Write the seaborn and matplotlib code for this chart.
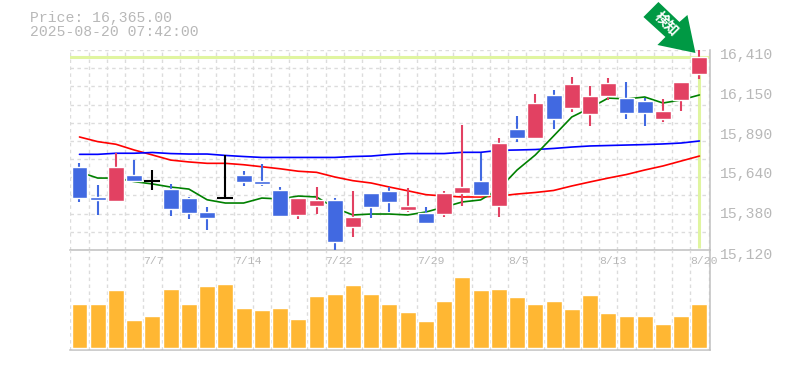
import numpy as np
import pandas as pd
import matplotlib
matplotlib.use('Agg')
import matplotlib.pyplot as plt
from matplotlib.patches import Polygon
from matplotlib.transforms import IdentityTransform, blended_transform_factory
import seaborn as sns

# Values
opens = [15655, 15462, 15436, 15604, 15567, 15513, 15455, 15365, 15453, 15604, 15565, 15507,
         15346, 15404, 15443, 15268, 15488, 15501, 15378, 15359, 15352, 15488, 15565, 15404,
         15900, 15842, 16120, 16036, 15997, 16113, 16100, 16081, 15965, 16088, 16255]
highs = [15681, 15539, 15746, 15700, 15636, 15546, 15462, 15397, 15733, 15630, 15675, 15526,
         15455, 15526, 15455, 15501, 15488, 15526, 15520, 15397, 15501, 15926, 15746, 15842,
         15984, 16126, 16152, 16236, 16178, 16229, 16204, 16100, 16094, 16204, 16410]
lows = [15430, 15346, 15430, 15565, 15507, 15339, 15320, 15249, 15449, 15533, 15533, 15339,
        15320, 15352, 15120, 15204, 15326, 15365, 15365, 15294, 15333, 15404, 15475, 15333,
        15817, 15842, 15900, 16010, 15920, 16088, 15965, 15920, 15946, 16017, 16223]
closes = [15455, 15443, 15655, 15565, 15567, 15384, 15359, 15326, 15453, 15559, 15546, 15339,
          15455, 15443, 15172, 15333, 15397, 15430, 15404, 15294, 15488, 15526, 15475, 15810,
          15842, 16068, 15965, 16191, 16113, 16197, 16004, 16004, 16017, 16204, 16365]
ma_short = [15623, 15584, 15584, 15561, 15546, 15526, 15513, 15444, 15423, 15423, 15455, 15449,
            15468, 15462, 15391, 15346, 15352, 15352, 15346, 15365, 15397, 15430, 15443, 15513,
            15636, 15733, 15855, 15978, 16036, 16100, 16094, 16107, 16068, 16088, 16120]
ma_mid = [15849, 15819, 15802, 15765, 15733, 15700, 15688, 15679, 15679, 15670, 15657, 15644,
          15628, 15621, 15591, 15567, 15552, 15526, 15502, 15477, 15468, 15462, 15462, 15468,
          15481, 15491, 15504, 15533, 15559, 15584, 15607, 15636, 15662, 15694, 15726]
ma_long = [15737, 15737, 15744, 15744, 15749, 15742, 15739, 15739, 15730, 15723, 15717, 15717,
           15717, 15717, 15717, 15723, 15726, 15736, 15742, 15742, 15742, 15750, 15750, 15763,
           15765, 15768, 15775, 15784, 15791, 15794, 15797, 15800, 15804, 15810, 15823]
volume = [44, 44, 58, 28, 32, 59, 44, 62, 64, 40, 38, 40, 29, 52, 54, 63, 54, 44,
          36, 27, 47, 71, 58, 59, 51, 44, 47, 39, 53, 35, 32, 32, 24, 32, 44]
date_slots = [4, 9, 14, 19, 24, 29, 34]
date_labels = ['7/7', '7/14', '7/22', '7/29', '8/5', '8/13', '8/20']
price_ticks = [16410, 16150, 15890, 15640, 15380, 15120]
last_price = 16365

BLUE = '#4169e1'
RED = '#e24162'
GRAY = '#c0c0c0'
GRID = '#dcdcdc'
HILITE = '#e0f5a0'
TEXT = '#b8b8b8'

sns.set_style('white')
plt.rcParams['font.family'] = ['Liberation Mono', 'DejaVu Sans']

W, H = 785, 370
fig = plt.figure(figsize=(W / 100, H / 100), dpi=100)
ax = fig.add_axes([70 / W, 1 - 250 / H, 640 / W, 200 / H])
ax_vol = fig.add_axes([70 / W, 1 - 350 / H, 640 / W, 100 / H])

df = pd.DataFrame({'i': np.arange(len(closes)), 'open': opens, 'high': highs, 'low': lows,
                   'close': closes, 'short': ma_short, 'mid': ma_mid, 'long': ma_long,
                   'volume': volume})

# Highlight of the last price
ax.axhline(last_price, color=HILITE, lw=2.2, zorder=1)
ax.vlines(df['i'].iloc[-1], 15135, last_price, color=HILITE, lw=2.2, zorder=1)

# Moving averages
sns.lineplot(data=df, x='i', y='mid', color='red', lw=1.2, ax=ax, zorder=2)
sns.lineplot(data=df, x='i', y='long', color='blue', lw=1.2, ax=ax, zorder=2)
sns.lineplot(data=df, x='i', y='short', color='green', lw=1.2, ax=ax, zorder=2)

# Candles
for row in df.itertuples():
    if row.close == row.open or row.i == 8:
        c = 'black'
    elif row.close > row.open:
        c = RED
    else:
        c = BLUE
    ax.vlines(row.i, row.low, row.high, color=c, lw=1.5, zorder=3)
    if c == 'black':
        ax.hlines(row.close, row.i - 0.44, row.i + 0.44, color=c, lw=1.5, zorder=3)
    else:
        ax.bar(row.i, abs(row.close - row.open), bottom=min(row.open, row.close), width=0.875,
               color=c, zorder=3)

# Volume
sns.barplot(data=df, x='i', y='volume', color='#ffb733', saturation=1, width=0.875, ax=ax_vol,
            zorder=3)

slots = np.arange(len(closes) + 1) - 0.5
for a in (ax, ax_vol):
    a.set_xlim(-0.52, 34.58)
    a.set_xticks(slots)
    a.set_xticklabels([])
    a.set_xlabel('')
    a.set_ylabel('')
    a.tick_params(length=0, labelleft=False, labelbottom=False)
    a.grid(True, axis='x', color=GRID, ls=(0, (2.5, 2.5)), lw=1)
    a.set_axisbelow(True)
    a.patch.set_alpha(0)
    for s in ('left', 'top'):
        a.spines[s].set_visible(False)
    for s in ('right', 'bottom'):
        a.spines[s].set_color(GRAY)
        a.spines[s].set_linewidth(1.1)

ax.set_ylim(15120, 16410)
ax.set_yticks(np.linspace(15120, 16410, 12))
ax.grid(True, axis='y', color=GRID, ls=(0, (2.5, 2.5)), lw=1)
ax_vol.set_ylim(-2, 98)
ax_vol.set_yticks([])
ax_vol.spines['top'].set_visible(False)

# Axis texts
for p in price_ticks:
    ax.annotate(f'{p:,}', xy=(1, p), xycoords=ax.get_yaxis_transform(), xytext=(10, -4.5),
                textcoords='offset pixels', ha='left', va='center', fontsize=10.6, color=TEXT)
trans = blended_transform_factory(ax_vol.transData, ax_vol.transAxes)
for s, lab in zip(date_slots, date_labels):
    ax_vol.text(s - 0.5, 0.885, lab, transform=trans, ha='left', va='center', fontsize=8.2,
                color=TEXT)

fig.text(30 / W, 1 - 18 / H, f'Price: {last_price:,}.00', ha='left', va='center', fontsize=10.6,
         color=TEXT)
fig.text(30 / W, 1 - 32 / H, '2025-08-20 07:42:00', ha='left', va='center', fontsize=10.6,
         color=TEXT)

# Green arrow pointing at the last candle
ax0, ay0 = ax.transData.transform((df['i'].iloc[-1], last_price))
shape = [(-41, 55), (-20, 35), (-12, 42), (-4, 4), (-42, 12), (-34, 20), (-56, 40)]
pts = [(ax0 + dx, ay0 + dy) for dx, dy in shape]
fig.add_artist(Polygon(pts, closed=True, facecolor='#009944', edgecolor='none',
                       transform=IdentityTransform(), zorder=10))
fig.text((ax0 - 33.5) / W, (ay0 + 33) / H, '検知', rotation=-45, rotation_mode='anchor',
         ha='center', va='center', color='white', fontsize=10, fontweight='bold',
         family=['Noto Sans CJK JP', 'DejaVu Sans'], zorder=11)

fig.savefig('out.png', dpi=100)
